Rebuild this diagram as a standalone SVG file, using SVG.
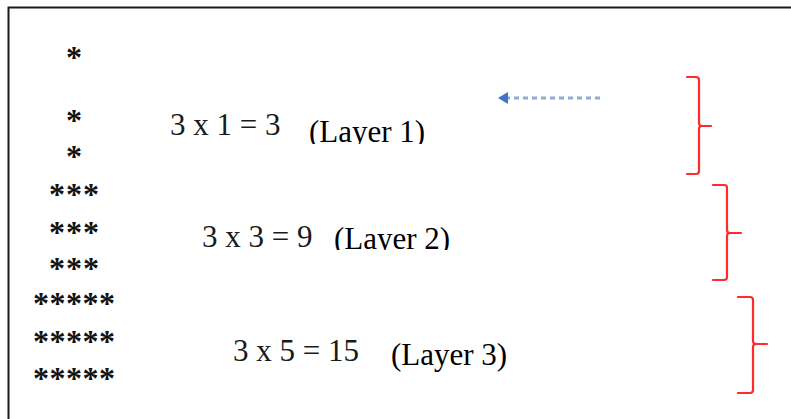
<svg xmlns="http://www.w3.org/2000/svg" width="791" height="419" viewBox="0 0 791 419">
<style>
.star{font-family:"Liberation Serif","Times New Roman",serif;font-size:32px;font-weight:bold;fill:#111;text-anchor:middle}
.eq{font-family:"Liberation Serif","Times New Roman",serif;font-size:31px;fill:#1a1a1a}
.lay{font-family:"Liberation Serif","Times New Roman",serif;font-size:31px;fill:#000}
.br{fill:none;stroke:#ff2a2a;stroke-width:2.2;stroke-linejoin:round;stroke-linecap:round}
</style>
<defs>
<marker id="ah" viewBox="0 0 10 12" refX="0" refY="6" markerUnits="userSpaceOnUse" markerWidth="11" markerHeight="12" orient="auto">
<path d="M0,0 L10,6 L0,12 Z" fill="#4472c4"/>
</marker>
<clipPath id="c1"><rect x="300" y="100" width="140" height="44"/></clipPath>
<clipPath id="c2"><rect x="325" y="210" width="140" height="40"/></clipPath>
</defs>
<rect width="791" height="419" fill="#fff"/>
<g id="frame" fill="none" stroke="#1a1a1a" stroke-width="2">
<path d="M8.5,419 V7.5 H791"/>
</g>
<g id="stars">
<text class="star" x="74" y="68">*</text>
<text class="star" x="74" y="130.5">*</text>
<text class="star" x="74" y="167">*</text>
<text class="star" x="57 74 91" y="205">***</text>
<text class="star" x="57 74 91" y="243">***</text>
<text class="star" x="57 74 91" y="279">***</text>
<text class="star" x="41 57.5 74 90.5 107" y="314">*****</text>
<text class="star" x="41 57.5 74 90.5 107" y="352">*****</text>
<text class="star" x="41 57.5 74 90.5 107" y="389">*****</text>
</g>
<g id="eq1"><text class="eq" x="170" y="135">3 x 1 = 3</text></g>
<g id="layer1"><text class="lay" x="309" y="141.5" clip-path="url(#c1)">(Layer 1)</text></g>
<g id="eq2"><text class="eq" x="202" y="247">3 x 3 = 9</text></g>
<g id="layer2"><text class="lay" x="334" y="248.5" clip-path="url(#c2)">(Layer 2)</text></g>
<g id="eq3"><text class="eq" x="233" y="361">3 x 5 = 15</text></g>
<g id="layer3"><text class="lay" x="391" y="365">(Layer 3)</text></g>
<g id="brackets">
<path class="br" d="M687,77 H696 Q699,77 699,80 V123 Q699,126 702,126 H711 M702,126 Q699,126 699,129 V171 Q699,174 696,174 H687"/>
<path class="br" d="M713,185 H724 Q727,185 727,188 V230 Q727,233 730,233 H741 M730,233 Q727,233 727,236 V277 Q727,280 724,280 H713"/>
<path class="br" d="M738,297 H750 Q753,297 753,300 V341 Q753,344 756,344 H767 M756,344 Q753,344 753,347 V390 Q753,393 750,393 H738"/>
</g>
<g id="connectors">
<path d="M600,98 H508" fill="none" stroke="#8eaadb" stroke-width="3" stroke-dasharray="5 4" marker-end="url(#ah)"/>
</g>
</svg>
